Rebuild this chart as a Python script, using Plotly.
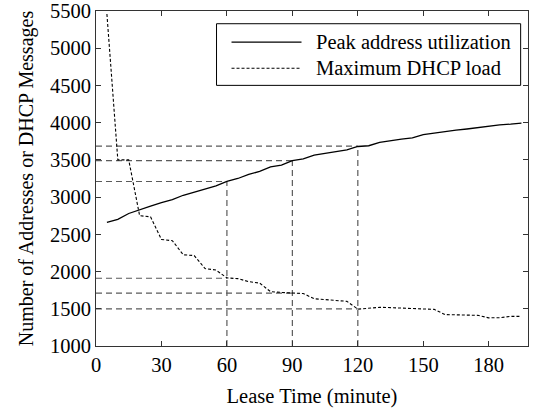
import plotly.graph_objects as go

lease_time = [5, 10, 15, 20, 25, 30, 35, 40, 45, 50, 55, 60, 65, 70, 75, 80, 85, 90, 95, 100,
              105, 110, 115, 120, 125, 130, 135, 140, 145, 150, 155, 160, 165, 170, 175, 180,
              185, 190, 195]
peak_util = [2660, 2700, 2780, 2835, 2880, 2925, 2965, 3025, 3070, 3115, 3150, 3210, 3250,
             3305, 3345, 3405, 3430, 3490, 3515, 3565, 3590, 3610, 3635, 3680, 3690, 3735,
             3760, 3780, 3795, 3840, 3860, 3885, 3900, 3915, 3935, 3955, 3970, 3980, 3995]
dhcp_load = [5460, 3500, 3500, 2750, 2735, 2430, 2415, 2225, 2215, 2040, 2020, 1915, 1905,
             1865, 1845, 1730, 1720, 1712, 1705, 1635, 1622, 1612, 1600, 1495, 1505, 1520,
             1515, 1508, 1503, 1500, 1492, 1422, 1418, 1415, 1412, 1378, 1380, 1398, 1398]

ref_x = [60, 90, 120]
ref_peak = [3210, 3490, 3685]
ref_load = [1910, 1710, 1500]

x_ticks = [0, 30, 60, 90, 120, 150, 180]
y_ticks = [1000, 1500, 2000, 2500, 3000, 3500, 4000, 4500, 5000, 5500]

FONT = "Liberation Serif, Times New Roman, serif"
GRAY = "#5a5a5a"

fig = go.Figure()

# reference guide lines
gx, gy = [], []
for xv, yp, yl in zip(ref_x, ref_peak, ref_load):
    gx += [0, xv, None, 0, xv, None, xv, xv, None]
    gy += [yp, yp, None, yl, yl, None, 1000, yp, None]
fig.add_trace(go.Scatter(x=gx, y=gy, mode="lines", showlegend=False, hoverinfo="skip",
                         line=dict(color=GRAY, width=1.2, dash="6px,4px")))

fig.add_trace(go.Scatter(x=lease_time, y=peak_util, mode="lines", name="Peak address utilization",
                         showlegend=False, line=dict(color="black", width=1.3)))
fig.add_trace(go.Scatter(x=lease_time, y=dhcp_load, mode="lines", name="Maximum DHCP load",
                         showlegend=False, line=dict(color="black", width=1.1, dash="3px,2px")))

# manual legend (paper coordinates)
lx0, lx1, ly0, ly1 = 0.279, 0.983, 0.778, 0.962
fig.add_shape(type="rect", xref="paper", yref="paper", x0=lx0, x1=lx1, y0=ly0, y1=ly1,
              line=dict(color="black", width=1), fillcolor="white", layer="above")
legend_items = [("Peak address utilization", 0.907, "solid", 1.3),
                ("Maximum DHCP load", 0.829, "3px,2px", 1.1)]
for name, yy, dash, w in legend_items:
    fig.add_shape(type="line", xref="paper", yref="paper", x0=0.3137, x1=0.4757, y0=yy, y1=yy,
                  line=dict(color="black", width=w, dash=dash), layer="above")
    fig.add_annotation(xref="paper", yref="paper", x=0.504, y=yy, text=name, showarrow=False,
                       xanchor="left", yanchor="middle", font=dict(family=FONT, size=20.5, color="black"))

axis_common = dict(showgrid=False, zeroline=False, showline=True, linecolor="#333333", linewidth=1,
                   mirror="ticks", ticks="inside", ticklen=5, tickcolor="#333333",
                   ticklabeloverflow="allow", automargin=False,
                   tickfont=dict(family=FONT, size=20.5, color="black"))

fig.update_xaxes(range=[0, 198], tickvals=x_ticks, ticktext=[str(v) for v in x_ticks],
                 title=dict(text="Lease Time (minute)", font=dict(family=FONT, size=20.5, color="black"),
                            standoff=14), **axis_common)
fig.update_yaxes(range=[1000, 5500], tickvals=y_ticks, ticktext=[str(v) for v in y_ticks],
                 title=dict(text="Number of Addresses or DHCP Messages",
                            font=dict(family=FONT, size=20, color="black"), standoff=10),
                 **axis_common)

fig.update_layout(width=533, height=413, margin=dict(l=96, r=5, t=11, b=67, autoexpand=False),
                  paper_bgcolor="white", plot_bgcolor="white",
                  font=dict(family=FONT, size=20, color="black"))

fig.write_html("out.html")
